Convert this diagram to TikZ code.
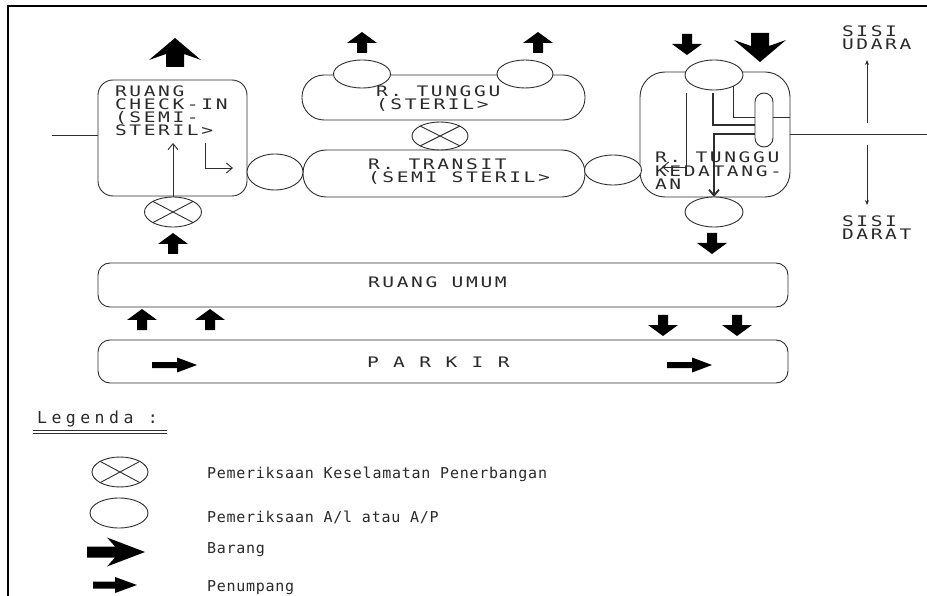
\documentclass[tikz,border=0pt]{standalone}
\usepackage{fontspec}
\usetikzlibrary{shapes.geometric,arrows.meta}
\newfontfamily\cadfont[FakeStretch=1.35,LetterSpace=18]{DejaVu Sans Mono}
\newfontfamily\legfont[LetterSpace=5]{DejaVu Sans Mono}
\newfontfamily\legtitlefont[LetterSpace=27]{DejaVu Sans Mono}
\definecolor{linec}{HTML}{2E2E2E}
\definecolor{txtc}{HTML}{2A2A2A}
\tikzset{
  paxup/.pic={\fill[black] (0,0) -- (15,11) -- (5,11) -- (5,21) -- (-5,21) -- (-5,11) -- (-15,11) -- cycle;},
  paxright/.pic={\fill[black] (0,0) -- (-20,-7.5) -- (-20,-3) -- (-45,-3) -- (-45,3) -- (-20,3) -- (-20,7.5) -- cycle;},
  bagdown/.pic={\fill[black] (0,0) -- (26,-22) -- (9,-16) -- (9,-29) -- (-9,-29) -- (-9,-16) -- (-26,-22) -- cycle;},
  bagright/.pic={\fill[black] (0,0) -- (-38,-14.5) -- (-30,-5.5) -- (-58,-5.5) -- (-58,5.5) -- (-30,5.5) -- (-38,14.5) -- cycle;},
  legpax/.pic={\fill[black] (0,0) -- (-22,-8) -- (-22,-3.5) -- (-44,-3.5) -- (-44,3.5) -- (-22,3.5) -- (-22,8) -- cycle;}
}
\begin{document}
\begin{tikzpicture}[x=1pt,y=-1pt,
  box/.style={draw=linec, line width=0.9pt, rectangle, inner sep=0pt, outer sep=0pt},
  chk/.style={draw=linec, line width=0.9pt, ellipse, fill=white, inner sep=0pt, outer sep=0pt},
  cad/.style={anchor=base west, inner sep=0pt, outer sep=0pt, text=txtc, font=\cadfont\fontsize{14.5}{14.5}\selectfont},
  leg/.style={anchor=base west, inner sep=0pt, outer sep=0pt, text=txtc, font=\legfont\fontsize{15}{15}\selectfont},
  ln/.style={draw=linec, line width=0.9pt},
  openarr/.style={-{Straight Barb[length=6pt,width=10pt]}},
]
\useasboundingbox (0,0) rectangle (927,596);
\fill[white] (0,0) rectangle (927,596);
% frame
\draw[black, line width=1.8pt] (8,596) -- (8,6) -- (927,6);

% rooms
\node[box, rounded corners=15pt, minimum width=149pt, minimum height=116pt] (checkin) at (172.5,138) {};
\node[box, rounded corners=22pt, minimum width=283pt, minimum height=45pt] (tunggu) at (443.5,97.5) {};
\node[box, rounded corners=23pt, minimum width=282pt, minimum height=47pt] (transit) at (444,173.5) {};
\node[box, rounded corners=25pt, minimum width=150pt, minimum height=125pt] (datang) at (715,134.5) {};
\node[box, rounded corners=12pt, minimum width=690pt, minimum height=44pt] (umum) at (443,285) {};
\node[box, rounded corners=12pt, minimum width=690pt, minimum height=43pt] (parkir) at (443,361.5) {};

% air side / land side divider
\coordinate (lEnd) at (52,135);
\coordinate (rEnd) at (927,134.5);
\draw[ln] (lEnd) -- (checkin.west |- lEnd);
\draw[ln] (datang.east) -- (rEnd);

% checks
\node[chk, minimum width=57pt, minimum height=30pt] (xm1) at (173,212) {};
\node[chk, minimum width=56pt, minimum height=36pt] (c1) at (275,172) {};
\node[chk, minimum width=57pt, minimum height=28pt] (c2) at (362,74) {};
\node[chk, minimum width=56pt, minimum height=28pt] (c3) at (525,74) {};
\node[chk, minimum width=56pt, minimum height=28pt] (xm2) at (440,136) {};
\node[chk, minimum width=57pt, minimum height=30pt] (c4) at (613,170) {};
\node[chk, minimum width=58pt, minimum height=30pt] (c5) at (714,75) {};
\node[chk, minimum width=58pt, minimum height=30pt] (c6) at (714,212) {};
\draw[ln] (xm1.north west) -- (xm1.south east) (xm1.north east) -- (xm1.south west);
\draw[ln] (xm2.north west) -- (xm2.south east) (xm2.north east) -- (xm2.south west);

% flows inside check-in
\coordinate (ci1) at (173,143);
\coordinate (ci2) at (205,143);
\coordinate (ci3) at (233,168);
\draw[ln, openarr] (xm1.north) -- (ci1);
\draw[ln, openarr] (ci2) |- (ci3);

% flows inside arrival hall
\coordinate (dA) at (686,93);
\coordinate (dB) at (662,167);
\draw[ln, openarr] (dA) |- (dB);
\coordinate (dF) at (790,117);
\draw[ln] (c5.-30) |- (dF);
\coordinate (dC) at (713,93);
\coordinate (dD) at (755,125);
\coordinate (dE) at (755,134);
\draw[ln, line width=1.8pt] (dC) |- (dD);
\draw[ln, line width=1.8pt, openarr] (dE) -| (c6.north);
\node[box, rounded corners=9pt, minimum width=18pt, minimum height=54pt, fill=white] (pill) at (764,120) {};

% air / land side arrows
\coordinate (su0) at (867,123);
\coordinate (su1) at (867,60);
\coordinate (sd0) at (867,145);
\coordinate (sd1) at (867,205);
\draw[ln, line width=0.7pt, -{Stealth[length=5pt,width=4pt]}] (su0) -- (su1);
\draw[ln, line width=0.7pt, -{Stealth[length=5pt,width=4pt]}] (sd0) -- (sd1);

% texts
\node[cad] (ck1) at (115,97) {RUANG};
\node[cad] (ck2) at (115,110) {CHECK-IN};
\node[cad] (ck3) at (115,123) {(SEMI-};
\node[cad] (ck4) at (115,136) {STERIL>};
\node[cad] (tg1) at (376,97) {R. TUNGGU};
\node[cad] (tg2) at (376,110) {(STERIL>};
\node[cad] (tr1) at (368,170) {R. TRANSIT};
\node[cad] (tr2) at (368,183) {(SEMI STERIL>};
\node[cad] (dt1) at (655,163) {R. TUNGGU};
\node[cad] (dt2) at (655,177) {KEDATANG-};
\node[cad] (dt3) at (655,190) {AN};
\node[cad] (su) at (842,37) {SISI};
\node[cad] (ud) at (842,50) {UDARA};
\node[cad] (sd) at (842,227) {SISI};
\node[cad] (dr) at (842,240) {DARAT};
\node[cad] (um) at (368,288) {RUANG UMUM};
\node[cad] (pk) at (367,367) {P A R K I R};

% baggage and passenger arrows
\pic[rotate=180] at (175,38) {bagdown};
\pic at (760,62) {bagdown};
\pic at (362,32) {paxup};
\pic at (538,32) {paxup};
\pic[rotate=180] at (687,55) {paxup};
\pic at (173,233) {paxup};
\pic[rotate=180] at (712,254) {paxup};
\pic at (142,309) {paxup};
\pic at (210,309) {paxup};
\pic[rotate=180] at (663,336) {paxup};
\pic[rotate=180] at (737,336) {paxup};
\pic at (197,365) {paxright};
\pic at (712,365) {paxright};

% legend
\node[anchor=base west, inner sep=0pt, text=txtc, font=\legtitlefont\fontsize{16.5}{16.5}\selectfont] (lgt) at (37,423) {Legenda :};
\coordinate (ul0) at (33,430);
\coordinate (ul1) at (167,430);
\coordinate (ul2) at (33,433.5);
\coordinate (ul3) at (167,433.5);
\draw[ln] (ul0) -- (ul1);
\draw[ln, line width=1.3pt] (ul2) -- (ul3);
\node[chk, minimum width=56pt, minimum height=30pt] (lx) at (120,472) {};
\draw[ln] (lx.north west) -- (lx.south east) (lx.north east) -- (lx.south west);
\node[chk, minimum width=58pt, minimum height=30pt] (lc) at (119,513) {};
\pic at (145,552) {bagright};
\pic at (137,585) {legpax};
\node[leg] (l1) at (207,478) {Pemeriksaan Keselamatan Penerbangan};
\node[leg] (l2) at (207,522) {Pemeriksaan A/l atau A/P};
\node[leg] (l3) at (207,553) {Barang};
\node[leg] (l4) at (207,591) {Penumpang};
\end{tikzpicture}
\end{document}
